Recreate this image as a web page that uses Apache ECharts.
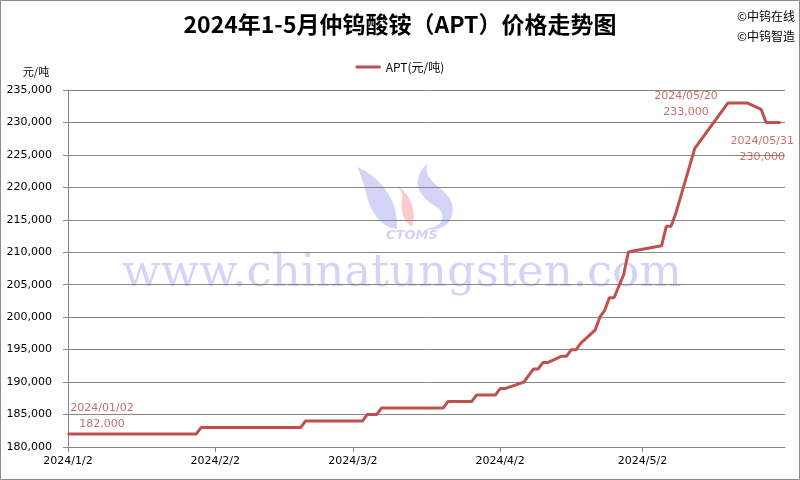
<!DOCTYPE html>
<html><head><meta charset="utf-8">
<script src="https://cdn.jsdelivr.net/npm/echarts@6/dist/echarts.min.js"></script>
<style>html,body{margin:0;padding:0;background:#fff}#c{width:800px;height:480px}</style>
</head><body><div id="c"></div>
<script>
// ---- data ----
const titleText = '2024年1-5月仲钨酸铵（APT）价格走势图';
const seriesName = 'APT(元/吨)';
const dates = [
 '2024/01/02','2024/01/03','2024/01/04','2024/01/05',
 '2024/01/08','2024/01/09','2024/01/10','2024/01/11','2024/01/12',
 '2024/01/15','2024/01/16','2024/01/17','2024/01/18','2024/01/19',
 '2024/01/22','2024/01/23','2024/01/24','2024/01/25','2024/01/26',
 '2024/01/29','2024/01/30','2024/01/31','2024/02/01','2024/02/02',
 '2024/02/04','2024/02/05','2024/02/06','2024/02/07','2024/02/08','2024/02/09',
 '2024/02/18','2024/02/19','2024/02/20','2024/02/21','2024/02/22','2024/02/23',
 '2024/02/26','2024/02/27','2024/02/28','2024/02/29','2024/03/01',
 '2024/03/04','2024/03/05','2024/03/06','2024/03/07','2024/03/08',
 '2024/03/11','2024/03/12','2024/03/13','2024/03/14','2024/03/15',
 '2024/03/18','2024/03/19','2024/03/20','2024/03/21','2024/03/22',
 '2024/03/25','2024/03/26','2024/03/27','2024/03/28','2024/03/29',
 '2024/04/01','2024/04/02','2024/04/03','2024/04/07','2024/04/08','2024/04/09','2024/04/10','2024/04/11','2024/04/12',
 '2024/04/15','2024/04/16','2024/04/17','2024/04/18','2024/04/19',
 '2024/04/22','2024/04/23','2024/04/24','2024/04/25','2024/04/26','2024/04/28','2024/04/29','2024/04/30',
 '2024/05/06','2024/05/07','2024/05/08','2024/05/09','2024/05/10','2024/05/11',
 '2024/05/13','2024/05/14','2024/05/15','2024/05/16','2024/05/17',
 '2024/05/20','2024/05/21','2024/05/22','2024/05/23','2024/05/24',
 '2024/05/27','2024/05/28','2024/05/29','2024/05/30','2024/05/31'
];
const prices = [
 182000,182000,182000,182000,
 182000,182000,182000,182000,182000,
 182000,182000,182000,182000,182000,
 182000,182000,182000,182000,182000,
 182000,183000,183000,183000,183000,
 183000,183000,183000,183000,183000,183000,
 183000,183000,183000,184000,184000,184000,
 184000,184000,184000,184000,184000,
 184000,185000,185000,185000,186000,
 186000,186000,186000,186000,186000,
 186000,186000,186000,186000,187000,
 187000,187000,187000,188000,188000,
 188000,189000,189000,190000,191000,192000,192000,193000,193000,
 194000,194000,195000,195000,196000,
 198000,200000,201000,203000,203000,206500,210000,210200,
 211000,214000,214000,216000,218500,221000,
 226000,227000,228000,229000,230000,
 233000,233000,233000,233000,233000,
 232000,230000,230000,230000,230000
];
const xTickDates = ['2024/01/02','2024/02/02','2024/03/02','2024/04/02','2024/05/02'];
const xRange = ['2024/01/02','2024/06/01'];
const yMin = 180000, yMax = 235000, yStep = 5000;
const yUnit = '元/吨';
const annotDates = ['2024/01/02','2024/05/20','2024/05/31'];
const annotOffsets = [[34,-18],[-42,1],[-18,27]];
const copyright = ['©中钨在线','©中钨智造'];
const watermark = 'www.chinatungsten.com';

// ---- helpers ----
function ts(s){const p=s.split('/').map(Number);return new Date(p[0],p[1]-1,p[2]).getTime();}
function fmtNum(v){return String(v).replace(/\B(?=(\d{3})+(?!\d))/g, ',');}
function fmtDate(v){const d=new Date(v);return d.getFullYear()+'/'+(d.getMonth()+1)+'/'+d.getDate();}

// decorative logo shapes (watermark)
try {
  echarts.graphic.registerShape('logoLeft', echarts.graphic.extendPath('M357,167 C376,175 399,196 397,229 C385,229 372,215 368,200 C364,186 362,176 357,167 Z', {}));
  echarts.graphic.registerShape('logoRight', echarts.graphic.extendPath('M427,164 C410,180 418,196 435,206 C448,214 444,228 424,229 C442,233 456,222 452,204 C448,187 423,184 427,164 Z', {}));
  echarts.graphic.registerShape('logoMid', echarts.graphic.extendPath('M397,186 C412,194 417,214 412,227 C404,222 400,210 402,200 C403,194 401,190 397,186 Z', {}));
  var logoOK = true;
} catch(e) { var logoOK = false; }

const red = '#C0504D';
const gridColor = '#868686';
const lineData = dates.map((d,i)=>[ts(d), prices[i]]);
const annotData = annotDates.map((d,k)=>{
  const i = dates.indexOf(d);
  return {
    value:[ts(d), prices[i]],
    label:{show:true, position:'inside', offset:annotOffsets[k], align:'center', verticalAlign:'middle',
      formatter: d + '\n' + fmtNum(prices[i])}
  };
});

const graphics = [
  {type:'rect', shape:{x:0.5,y:0.5,width:799,height:479}, style:{fill:null, stroke:'#8c8c8c', lineWidth:1}, z:100, silent:true},
  {type:'text', x:36, y:72, style:{text:yUnit, font:'11px "Noto Sans CJK SC"', fill:'#000', textAlign:'center', textVerticalAlign:'middle'}},
  {type:'text', x:795, y:16, style:{text:copyright[0], font:'12px "Noto Sans CJK SC"', fill:'#000', textAlign:'right', textVerticalAlign:'middle'}},
  {type:'text', x:795, y:36, style:{text:copyright[1], font:'12px "Noto Sans CJK SC"', fill:'#000', textAlign:'right', textVerticalAlign:'middle'}},
  {type:'text', x:402, y:274, z:-1, silent:true, style:{text:watermark, font:'45px "DejaVu Serif"', fill:'rgba(120,120,235,0.32)', textAlign:'center', textVerticalAlign:'middle'}},
  {type:'text', x:412, y:236, z:-1, silent:true, style:{text:'CTOMS', font:'italic bold 13px "DejaVu Sans"', fill:'rgba(120,120,235,0.35)', textAlign:'center', textVerticalAlign:'middle'}}
];
if (logoOK) {
  graphics.push(
    {type:'logoLeft', z:-1, silent:true, shape:{}, style:{fill:'rgba(120,120,235,0.32)'}},
    {type:'logoRight', z:-1, silent:true, shape:{}, style:{fill:'rgba(120,120,235,0.32)'}},
    {type:'logoMid', z:-1, silent:true, shape:{}, style:{fill:'rgba(240,110,110,0.35)'}}
  );
}

const chart = echarts.init(document.getElementById('c'), null, {renderer:'canvas'});
chart.setOption({
  animation:false,
  backgroundColor:'#fff',
  textStyle:{fontFamily:'DejaVu Sans'},
  title:{text:titleText, left:'center', top:8,
    textStyle:{fontFamily:'Noto Sans CJK SC', fontSize:23, fontWeight:'bold', color:'#000'}},
  legend:{data:[seriesName], top:56, left:'center', icon:'rect', itemWidth:25, itemHeight:3, itemGap:4,
    textStyle:{fontFamily:'Noto Sans CJK SC', fontSize:12, color:'#000'}},
  grid:{left:68, right:15, top:90, bottom:33, containLabel:false, outerBoundsMode:'none'},
  xAxis:{type:'value', min:ts(xRange[0]), max:ts(xRange[1]),
    axisLine:{show:true, onZero:false, lineStyle:{color:gridColor, width:1}},
    axisTick:{show:true, customValues:xTickDates.map(ts), length:5, lineStyle:{color:gridColor}},
    axisLabel:{customValues:xTickDates.map(ts), formatter:v=>fmtDate(v), color:'#000', fontSize:11, margin:9, fontFamily:'DejaVu Sans'},
    splitLine:{show:false}, minorTick:{show:false}},
  yAxis:{type:'value', min:yMin, max:yMax, interval:yStep,
    axisLine:{show:true, lineStyle:{color:gridColor, width:1}},
    axisTick:{show:true, inside:false, length:5, lineStyle:{color:gridColor}},
    axisLabel:{formatter:v=>fmtNum(v), color:'#000', fontSize:11, margin:16, fontFamily:'DejaVu Sans'},
    splitLine:{show:true, lineStyle:{color:gridColor, width:1}}},
  graphic:graphics,
  series:[
    {type:'line', name:seriesName, data:lineData, showSymbol:false, symbol:'none',
      lineStyle:{color:red, width:3}, itemStyle:{color:red}, z:3},
    {type:'scatter', name:'labels', data:annotData, symbolSize:2, itemStyle:{color:red}, silent:true, z:4,
      label:{color:'#B94744', fontSize:11, lineHeight:16, fontFamily:'DejaVu Sans'}}
  ]
});
</script></body></html>
